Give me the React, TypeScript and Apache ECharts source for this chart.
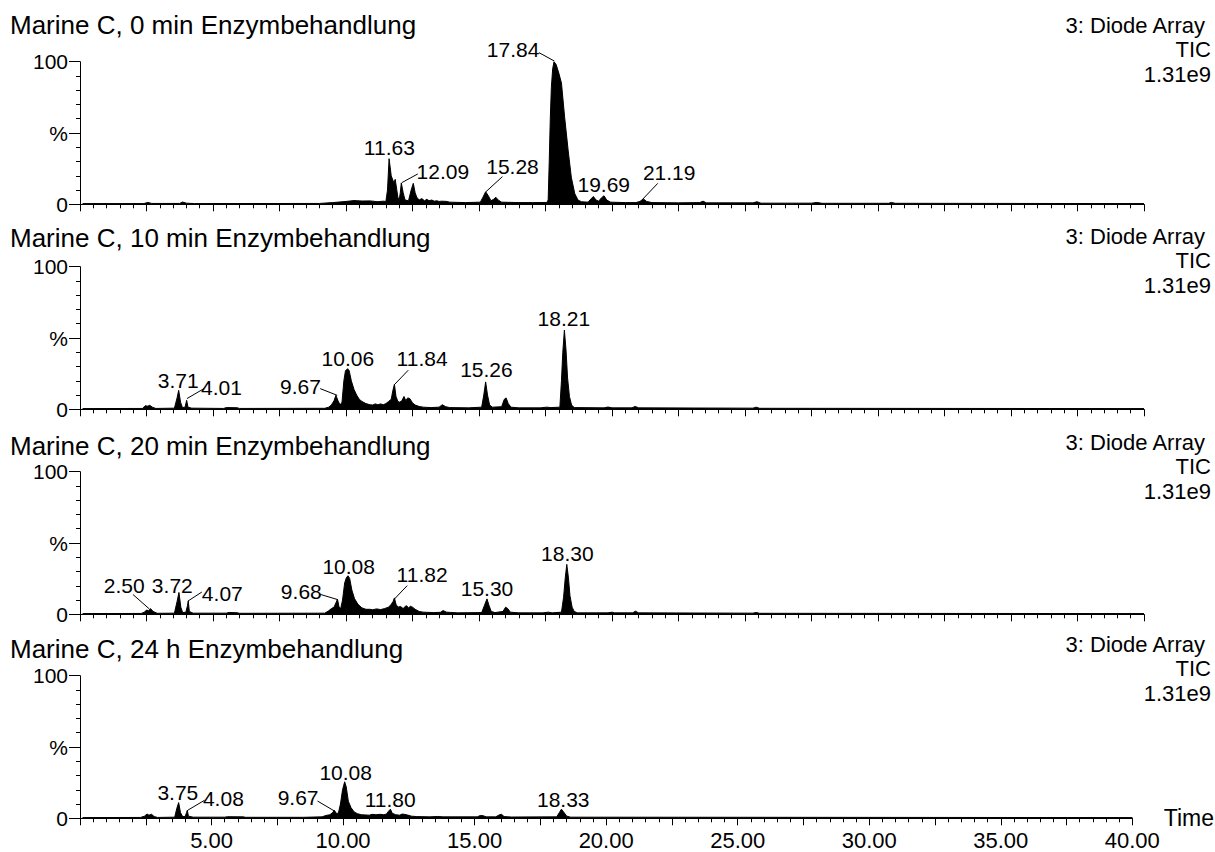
import React, { useEffect, useRef } from "react";
import * as echarts from "echarts";

const FONT = '"Liberation Sans", Arial, Helvetica, sans-serif';

const panelTitles = [
  "Marine C, 0 min Enzymbehandlung",
  "Marine C, 10 min Enzymbehandlung",
  "Marine C, 20 min Enzymbehandlung",
  "Marine C, 24 h Enzymbehandlung",
];
const detectorLines = ["3: Diode Array", "TIC", "1.31e9"];
const xTickLabels = [5, 10, 15, 20, 25, 30, 35, 40];
const yTickLabels: Record<number, string> = { 0: "0", 50: "%", 100: "100" };

// [time (min), relative intensity (%)]
const trace0min: number[][] = [
  [0.1, 0.5], [2.4, 0.5], [2.55, 1.3], [2.7, 0.6], [3.75, 0.6], [3.85, 1.6], [4.0, 0.8], [4.3, 0.5],
  [9.0, 0.6], [9.5, 1.2], [10.0, 2.0], [10.3, 2.6], [10.6, 2.3], [10.9, 2.4], [11.2, 1.8], [11.4, 2.2],
  [11.5, 2.0], [11.56, 10], [11.62, 32], [11.7, 20], [11.76, 17], [11.8, 15], [11.85, 17.5], [11.95, 5],
  [12.0, 3], [12.04, 8], [12.08, 15], [12.15, 8], [12.22, 3], [12.35, 2.5], [12.45, 10], [12.53, 14.7],
  [12.6, 8], [12.66, 5], [12.75, 3], [12.85, 4], [12.95, 2.5], [13.04, 3.5], [13.12, 2.5], [13.22, 3],
  [13.32, 2.2], [13.41, 2.5], [13.5, 2], [13.6, 2.2], [13.79, 2], [13.9, 1.5], [14.5, 1.2], [15.05, 1.5],
  [15.15, 5], [15.25, 8.8], [15.35, 6], [15.45, 2.5], [15.55, 3.5], [15.63, 5], [15.72, 3], [15.85, 1.5],
  [16.5, 1.2], [17.0, 1.2], [17.55, 1.3], [17.6, 3], [17.64, 30], [17.68, 60], [17.72, 82], [17.77, 95],
  [17.82, 100], [17.9, 98], [18.0, 92], [18.1, 85], [18.22, 61], [18.35, 38], [18.47, 19], [18.6, 7.5],
  [18.72, 3], [18.85, 1.8], [19.1, 1.5], [19.22, 4], [19.3, 5.5], [19.4, 3], [19.5, 2.2], [19.6, 4.5],
  [19.7, 6], [19.8, 3], [19.95, 1.5], [20.5, 1.2], [20.9, 1.2], [21.05, 2], [21.18, 3.8], [21.3, 2],
  [21.5, 1.2], [22.5, 1], [23.3, 1.2], [23.42, 2.2], [23.55, 1], [25.3, 1], [25.45, 1.8], [25.6, 0.8],
  [27.5, 0.8], [27.7, 1.3], [27.9, 0.7], [30.4, 0.7], [30.5, 1.3], [30.65, 0.7], [40, 0.5],
];

const trace10min: number[][] = [
  [0.1, 0.5], [2.35, 0.6], [2.45, 2.5], [2.55, 2.2], [2.62, 2.8], [2.72, 1.5], [2.85, 0.6],
  [3.55, 0.8], [3.65, 8], [3.71, 13.3], [3.78, 5], [3.85, 1.2], [3.95, 1.5], [4.01, 6.3], [4.06, 1.5],
  [4.2, 0.8], [5.4, 0.6], [5.5, 1.2], [5.9, 1.1], [6.0, 0.6], [9.2, 0.7], [9.35, 1.5], [9.45, 3],
  [9.55, 6], [9.62, 9.8], [9.7, 6], [9.78, 3], [9.85, 5], [9.92, 20], [9.98, 27], [10.06, 28.5],
  [10.12, 27], [10.2, 20], [10.3, 14], [10.4, 10], [10.5, 7], [10.6, 5.5], [10.75, 4], [10.9, 3.2],
  [11.0, 3], [11.1, 3.8], [11.2, 3.2], [11.3, 3.8], [11.4, 3.2], [11.5, 4], [11.6, 5.5], [11.7, 7],
  [11.76, 13], [11.82, 17.5], [11.88, 9], [11.95, 5.5], [12.02, 5], [12.1, 6], [12.18, 9], [12.25, 6],
  [12.32, 8], [12.4, 7.5], [12.5, 4.5], [12.6, 3], [12.75, 2], [12.9, 1.5], [13.2, 1.2], [13.5, 1.5],
  [13.62, 3.2], [13.75, 1.8], [13.9, 1.2], [14.6, 1], [15.1, 1.5], [15.18, 10], [15.25, 19.2],
  [15.32, 10], [15.4, 3], [15.5, 1.5], [15.85, 1.8], [15.95, 7], [16.02, 8], [16.1, 4], [16.2, 1.5],
  [16.5, 1], [17.3, 1], [17.55, 1.5], [17.7, 1.2], [18.04, 1.5], [18.1, 20], [18.15, 40], [18.21, 55.5],
  [18.27, 42], [18.33, 22], [18.4, 9], [18.48, 3], [18.58, 1.2], [19.7, 1], [19.85, 1.6], [20.0, 1],
  [20.75, 1], [20.87, 2], [21.0, 1], [25.3, 0.8], [25.42, 1.5], [25.55, 0.7], [40, 0.5],
];

const trace20min: number[][] = [
  [0.1, 0.5], [2.3, 0.6], [2.42, 1.5], [2.5, 3], [2.58, 2.5], [2.65, 4], [2.75, 2], [2.9, 0.7],
  [3.55, 0.8], [3.65, 9], [3.72, 15.3], [3.79, 5], [3.86, 1.2], [3.98, 1.5], [4.04, 6], [4.07, 9.4],
  [4.11, 2], [4.25, 0.8], [5.5, 0.8], [5.6, 1.3], [5.9, 1.1], [6.0, 0.7], [9.2, 0.8], [9.35, 2.5],
  [9.45, 4], [9.55, 5], [9.62, 8], [9.68, 10.6], [9.74, 5], [9.8, 4], [9.87, 10], [9.95, 22],
  [10.02, 26], [10.08, 27], [10.14, 25], [10.22, 17], [10.32, 11], [10.45, 7], [10.6, 4.5], [10.75, 3.5],
  [10.9, 3.5], [11.0, 3.2], [11.15, 3.8], [11.3, 3.3], [11.45, 4], [11.6, 5], [11.7, 7], [11.77, 9],
  [11.82, 11.5], [11.88, 7], [11.95, 5], [12.05, 5.5], [12.15, 4], [12.22, 5.5], [12.28, 6], [12.35, 4.5],
  [12.42, 5.6], [12.5, 5], [12.6, 3.5], [12.75, 2], [12.9, 1.5], [13.3, 1.2], [13.55, 1.4], [13.65, 2.6],
  [13.78, 1.5], [14.2, 1], [15.1, 1.2], [15.2, 6], [15.3, 10.8], [15.38, 6], [15.46, 2], [15.6, 1.2],
  [15.9, 2], [16.0, 5], [16.08, 4], [16.18, 1.5], [16.5, 1], [17.4, 1], [17.6, 1.5], [17.75, 1],
  [18.1, 1.5], [18.18, 12], [18.24, 25], [18.3, 35], [18.36, 26], [18.42, 13], [18.5, 5], [18.58, 2],
  [18.7, 1], [19.85, 1], [20.0, 1.5], [20.1, 1], [20.78, 1], [20.88, 2.2], [21.0, 1], [25.3, 0.8],
  [25.42, 1.3], [25.55, 0.7], [40, 0.5],
];

const trace24h: number[][] = [
  [0.1, 0.5], [2.3, 0.6], [2.45, 1.5], [2.55, 3], [2.62, 2.2], [2.72, 2.8], [2.82, 1.2], [2.95, 0.6],
  [3.6, 0.8], [3.68, 7], [3.75, 11], [3.82, 4], [3.9, 1.2], [4.0, 1.3], [4.05, 4], [4.08, 5.6],
  [4.12, 1.5], [4.3, 0.8], [5.5, 0.8], [5.6, 1.1], [6.2, 1], [6.3, 0.7], [8.5, 0.7], [9.2, 1],
  [9.35, 2], [9.5, 2.5], [9.6, 4], [9.67, 5.6], [9.74, 3.5], [9.82, 3.5], [9.9, 10], [9.98, 20],
  [10.06, 25.6], [10.12, 22], [10.2, 12], [10.3, 7.5], [10.42, 4.5], [10.55, 3.2], [10.7, 2.5],
  [11.0, 2.2], [11.1, 2.8], [11.25, 2.5], [11.4, 2.8], [11.55, 2.5], [11.65, 3], [11.73, 5], [11.8, 6.4],
  [11.87, 3.5], [12.0, 2.5], [12.15, 2.2], [12.25, 3], [12.32, 2.8], [12.45, 2.3], [12.6, 1.5],
  [12.8, 1.2], [13.3, 1], [13.6, 1.3], [13.8, 1], [15.1, 1], [15.22, 2], [15.32, 1.8], [15.45, 1],
  [15.8, 1], [15.95, 2.5], [16.02, 2.8], [16.12, 1.2], [16.4, 0.9], [18.12, 1], [18.22, 4], [18.3, 6.4],
  [18.38, 4.5], [18.5, 1.5], [18.65, 0.8], [40, 0.5],
];

const traces = [trace0min, trace10min, trace20min, trace24h];

type Ann = { text: string; at: number[]; line?: number[][] };

const peaks0min: Ann[] = [
  { text: "11.63", at: [11.63, 39.5] },
  { text: "12.09", at: [13.64, 22.7], line: [[12.1, 15.2], [12.7, 21.3]] },
  { text: "15.28", at: [16.26, 26.5], line: [[15.26, 8.8], [15.88, 19.4]] },
  { text: "17.84", at: [16.28, 108.3], line: [[17.25, 106.4], [17.83, 100.5]] },
  { text: "19.69", at: [19.69, 14.2] },
  { text: "21.19", at: [22.15, 22], line: [[21.16, 3.7], [21.72, 14.7]] },
];
const peaks10min: Ann[] = [
  { text: "3.71", at: [3.69, 20] },
  { text: "4.01", at: [5.32, 15.2], line: [[4.02, 7.5], [4.66, 14.5]] },
  { text: "9.67", at: [8.29, 15.7], line: [[9.03, 14.5], [9.67, 9.8]] },
  { text: "10.06", at: [10.07, 35.3] },
  { text: "11.84", at: [12.86, 35.3], line: [[11.82, 17.3], [12.34, 27.4]] },
  { text: "15.26", at: [15.28, 28.1] },
  { text: "18.21", at: [18.19, 63.9] },
];
const peaks20min: Ann[] = [
  { text: "2.50", at: [1.66, 19.9], line: [[1.99, 13.9], [2.61, 3.7]] },
  { text: "3.72", at: [3.47, 19.9] },
  { text: "4.07", at: [5.35, 14.7], line: [[4.06, 9.3], [4.58, 15.6]] },
  { text: "9.68", at: [8.32, 16.1], line: [[9.03, 14.0], [9.67, 10.4]] },
  { text: "10.08", at: [10.1, 33.7] },
  { text: "11.82", at: [12.86, 27.9], line: [[11.82, 10.7], [12.3, 20.1]] },
  { text: "15.30", at: [15.3, 18.2] },
  { text: "18.30", at: [18.32, 42.5] },
];
const peaks24h: Ann[] = [
  { text: "3.75", at: [3.72, 18.3] },
  { text: "4.08", at: [5.45, 14.0], line: [[4.09, 5.6], [4.73, 12.6]] },
  { text: "9.67", at: [8.29, 14.5], line: [[9.03, 12.1], [9.67, 5.1]] },
  { text: "10.08", at: [10.1, 32.3] },
  { text: "11.80", at: [11.79, 13.3] },
  { text: "18.33", at: [18.37, 13.3] },
];
const annotations = [peaks0min, peaks10min, peaks20min, peaks24h];

// layout (pixels)
const GRID_LEFT = 80;
const GRID_RIGHT = 71;
const PANEL_TOPS = [61.7, 266.7, 471.7, 675.7];
const PANEL_H = 142.6;
const TITLE_Y = [25, 238, 446, 649];
const DETECTOR_Y = [25, 236, 442, 644];

export default function App() {
  const ref = useRef<HTMLDivElement>(null);
  useEffect(() => {
    if (!ref.current) return;
    const chart = echarts.init(ref.current, null, { renderer: "svg" });
    const black = "#000";
    const option: any = {
      animation: false,
      backgroundColor: "#fff",
      textStyle: { fontFamily: FONT, color: black },
      grid: PANEL_TOPS.map((top) => ({ left: GRID_LEFT, right: GRID_RIGHT, top, height: PANEL_H })),
      xAxis: traces.map((_, i) => ({
        type: "value",
        gridIndex: i,
        min: 0,
        max: 40,
        interval: 2.5,
        axisLine: { show: true, onZero: false, lineStyle: { color: black, width: 1 } },
        axisTick: { show: true, length: 7, lineStyle: { color: black, width: 1 } },
        minorTick: { show: true, splitNumber: 5, length: 4, lineStyle: { color: black, width: 1 } },
        splitLine: { show: false },
        minorSplitLine: { show: false },
        axisLabel: {
          show: i === 3,
          color: black,
          fontSize: 22,
          fontFamily: FONT,
          margin: 11,
          formatter: (v: number) => (xTickLabels.indexOf(v) >= 0 ? v.toFixed(2) : ""),
        },
        name: i === 3 ? "Time" : "",
        nameLocation: "end",
        nameGap: 9,
        nameTextStyle: { color: black, fontSize: 23, fontFamily: FONT, verticalAlign: "middle" },
      })),
      yAxis: traces.map((_, i) => ({
        type: "value",
        gridIndex: i,
        min: 0,
        max: 100,
        interval: 50,
        axisLine: { show: true, lineStyle: { color: black, width: 1 } },
        axisTick: { show: true, length: 11, lineStyle: { color: black, width: 1 } },
        minorTick: { show: true, splitNumber: 5, length: 4, lineStyle: { color: black, width: 1 } },
        splitLine: { show: false },
        minorSplitLine: { show: false },
        axisLabel: {
          color: black,
          fontSize: 21,
          fontFamily: FONT,
          margin: 12,
          formatter: (v: number) => yTickLabels[v] ?? "",
        },
      })),
      series: traces.map((data, i) => ({
        type: "line",
        xAxisIndex: i,
        yAxisIndex: i,
        data,
        showSymbol: false,
        symbol: "none",
        silent: true,
        lineStyle: { color: black, width: 1 },
        areaStyle: { color: black, opacity: 1 },
        z: 3,
      })),
    };
    chart.setOption(option);

    const graphics: any[] = [];
    panelTitles.forEach((t, i) => {
      graphics.push({
        type: "text",
        x: 10,
        y: TITLE_Y[i],
        style: { text: t, fontSize: 26, fontFamily: FONT, fill: black, align: "left", verticalAlign: "middle" },
      });
      detectorLines.forEach((d, j) => {
        graphics.push({
          type: "text",
          x: j === 0 ? 1205 : 1211,
          y: DETECTOR_Y[i] + j * 24.5,
          style: { text: d, fontSize: 22, fontFamily: FONT, fill: black, align: "right", verticalAlign: "middle" },
        });
      });
    });
    annotations.forEach((anns, i) => {
      anns.forEach((a) => {
        const p = chart.convertToPixel({ gridIndex: i } as any, a.at) as number[];
        graphics.push({
          type: "text",
          x: p[0],
          y: p[1],
          z: 10,
          style: { text: a.text, fontSize: 21, fontFamily: FONT, fill: black, align: "center", verticalAlign: "middle" },
        });
        if (a.line) {
          const p1 = chart.convertToPixel({ gridIndex: i } as any, a.line[0]) as number[];
          const p2 = chart.convertToPixel({ gridIndex: i } as any, a.line[1]) as number[];
          graphics.push({
            type: "line",
            z: 10,
            shape: { x1: p1[0], y1: p1[1], x2: p2[0], y2: p2[1] },
            style: { stroke: black, lineWidth: 1 },
          });
        }
      });
    });
    chart.setOption({ graphic: graphics });

    return () => chart.dispose();
  }, []);

  return (
    <div
      ref={ref}
      style={{ position: "fixed", left: 0, top: 0, width: 1215, height: 852, background: "#fff" }}
    />
  );
}
